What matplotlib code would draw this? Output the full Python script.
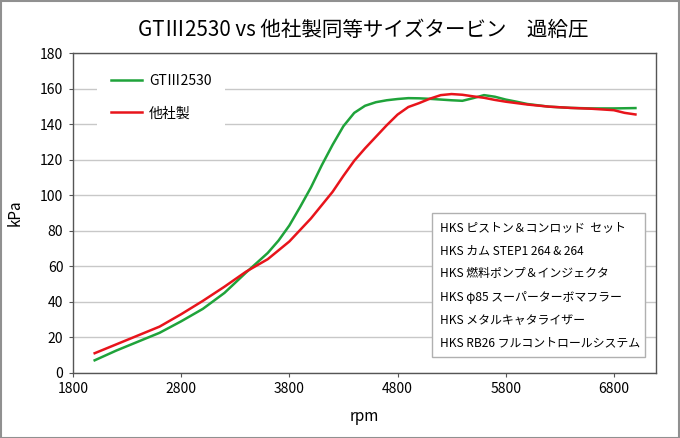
import matplotlib
matplotlib.use('Agg')
import matplotlib.pyplot as plt
from matplotlib.patches import Rectangle

plt.rcParams['font.family'] = ['Noto Sans CJK JP', 'DejaVu Sans']

# rpm / boost readings
rpm_gt = [2000, 2200, 2400, 2600, 2800, 3000, 3200, 3400, 3500, 3600, 3700, 3800, 3900,
          4000, 4100, 4200, 4300, 4400, 4500, 4600, 4700, 4800, 4900, 5000, 5100,
          5200, 5300, 5400, 5500, 5600, 5700, 5800, 5900, 6000, 6200, 6400, 6600,
          6800, 7000]
kpa_gt = [7, 12.5, 17.5, 22.5, 29, 36, 45, 56.5, 62, 67.5, 74.5, 83, 93.5,
          104.5, 117, 128.5, 139, 146.5, 150.5, 152.5, 153.6, 154.3, 154.8, 154.7, 154.4,
          154, 153.6, 153.3, 154.8, 156.5, 155.6, 154, 152.8, 151.5, 150, 149.3, 149,
          149, 149.2]

rpm_other = [2000, 2200, 2400, 2600, 2800, 3000, 3200, 3400, 3600, 3800, 4000, 4100,
             4200, 4300, 4400, 4500, 4600, 4700, 4800, 4900, 5000, 5100, 5200, 5300,
             5400, 5500, 5600, 5700, 5800, 6000, 6200, 6400, 6600, 6800, 6900, 7000]
kpa_other = [11, 16, 21, 26, 33, 40.5, 48.5, 57, 64, 74, 87, 94.5,
             102, 111, 119.5, 126.5, 133, 139.5, 145.5, 149.8, 152, 154.5, 156.5, 157.1,
             156.7, 155.8, 155, 153.8, 152.8, 151.2, 150, 149.3, 148.8, 148, 146.5, 145.6]

x_ticks = [1800, 2800, 3800, 4800, 5800, 6800]
y_ticks = list(range(0, 181, 20))

parts = ['HKS ピストン＆コンロッド  セット',
         'HKS カム STEP1 264 & 264',
         'HKS 燃料ポンプ＆インジェクタ',
         'HKS φ85 スーパーターボマフラー',
         'HKS メタルキャタライザー',
         'HKS RB26 フルコントロールシステム']

fig = plt.figure(figsize=(6.8, 4.38), dpi=100)
ax = fig.add_axes([0.1074, 0.149, 0.8573, 0.729])

ax.plot(rpm_gt, kpa_gt, color='#1fa33a', lw=1.8, label='GTⅢ2530',
        solid_joinstyle='round')
ax.plot(rpm_other, kpa_other, color='#e8141b', lw=1.8, label='他社製',
        solid_joinstyle='round')

ax.set_xlim(1800, 7190)
ax.set_ylim(0, 180)
ax.set_xticks(x_ticks)
ax.set_yticks(y_ticks)
ax.tick_params(labelsize=10, length=3, color='#555555', pad=4)
ax.yaxis.grid(True, color='#c8c8c8', lw=1)
ax.set_axisbelow(True)
for s in ax.spines.values():
    s.set_color('#555555')
    s.set_linewidth(1)

ax.set_xlabel('rpm', fontsize=11, labelpad=8)
ax.set_ylabel('kPa', fontsize=11, labelpad=12)
fig.text(0.534, 0.932, 'GTⅢ2530 vs 他社製同等サイズタービン　過給圧',
         ha='center', va='center', fontsize=14.8)

leg = ax.legend(loc='upper left', bbox_to_anchor=(0.03, 1.0), frameon=True,
                fontsize=10, handlelength=2.2, handletextpad=0.5,
                labelspacing=1.3, borderpad=1.0)
leg.get_frame().set_facecolor('white')
leg.get_frame().set_edgecolor('none')
leg.get_frame().set_alpha(1)

# parts list box
fig.patches.append(Rectangle((432 / 680, 1 - 357 / 438), 213 / 680, 144 / 438,
                             transform=fig.transFigure, facecolor='white',
                             edgecolor='#b0b0b0', lw=1, zorder=3))
for i, t in enumerate(parts):
    fig.text(440 / 680, 1 - (228 + i * 23) / 438, t, ha='left', va='center',
             fontsize=8.6, zorder=4)

fig.patches.append(Rectangle((0.001, 0.001), 0.998, 0.997, transform=fig.transFigure,
                             fill=False, edgecolor='#909090', lw=1.5))

fig.savefig('out.png', dpi=100)
